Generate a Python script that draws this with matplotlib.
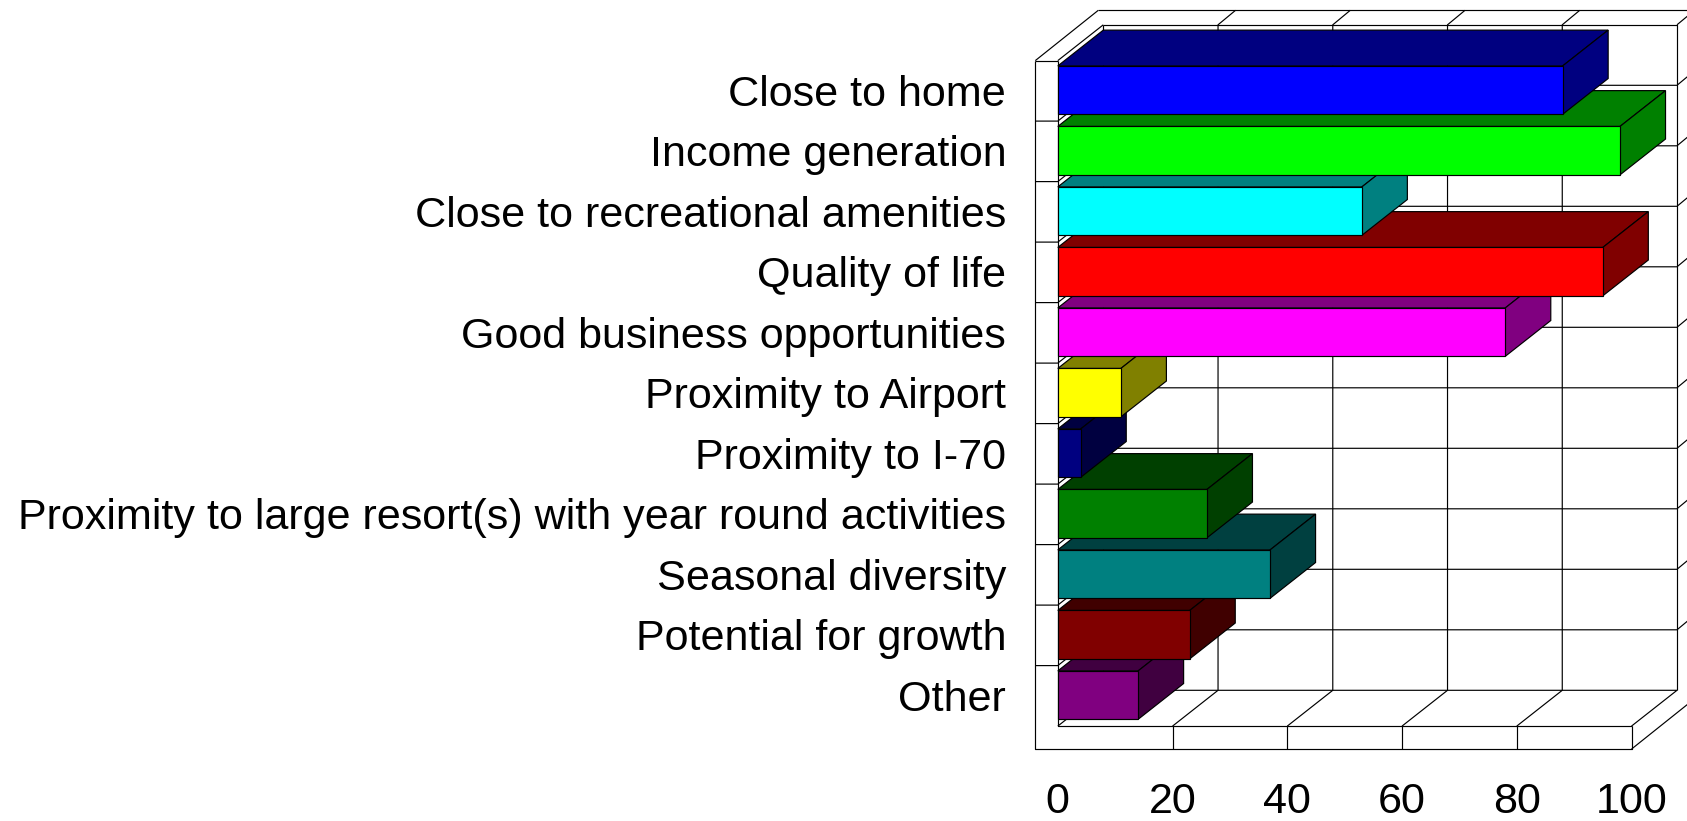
import matplotlib
matplotlib.use("Agg")
import matplotlib.pyplot as plt
from matplotlib.patches import Polygon

plt.rcParams['font.family'] = ['Liberation Sans', 'DejaVu Sans']

categories = ["Close to home", "Income generation", "Close to recreational amenities",
              "Quality of life", "Good business opportunities", "Proximity to Airport",
              "Proximity to I-70", "Proximity to large resort(s) with year round activities",
              "Seasonal diversity", "Potential for growth", "Other"]
values = [88, 98, 53, 95, 78, 11, 4, 26, 37, 23, 14]
front_colors = ["#0000FF", "#00FF00", "#00FFFF", "#FF0000", "#FF00FF", "#FFFF00",
                "#000080", "#008000", "#008080", "#800000", "#800080"]
depth_colors = ["#000080", "#008000", "#008080", "#800000", "#800080", "#808000",
                "#000040", "#004000", "#004040", "#400000", "#400040"]
x_ticks = [0, 20, 40, 60, 80, 100]

W, H = 1687, 821
fig = plt.figure(figsize=(W / 100, H / 100), dpi=100, facecolor="white")
L, R, T, B = 1057.8, 1631.5, 60.6, 726.1
ax = fig.add_axes([L / W, 1 - B / H, (R - L) / W, (B - T) / H])
n = len(categories)
ax.set_xlim(0, 100)
ax.set_ylim(n, 0)
sx = (R - L) / 100
sy = (B - T) / n

# projection offsets (data units)
DX, DY = 45.5 / sx, 35.8 / sy           # wall / bar depth
ODX, ODY = 63 / sx, 50.3 / sy           # outer slab depth
SLX, SLY = 22.5 / sx, 23 / sy           # slab thickness
lw = 0.85

def line(xs, ys, c="black", w=lw):
    ax.plot(xs, ys, color=c, lw=w, clip_on=False, solid_capstyle="butt", zorder=1)

# front slab outline
line([-SLX, -SLX, 100, 100], [0, n + SLY, n + SLY, n])
line([-SLX, 0], [0, 0])
line([0, 0, 100], [0, n, n])
line([-SLX, -SLX + ODX], [0, -ODY])
line([-SLX + ODX, 130], [-ODY, -ODY])
line([0, DX], [0, -DY])
line([DX, 100 + DX, 100 + DX], [-DY, -DY, n - DY])
line([DX, DX], [-DY, n - DY])
line([DX, 100 + DX, 100], [n - DY, n - DY, n])
line([0, DX], [n, n - DY])
line([100, 100 + ODX], [n + SLY, n + SLY - ODY])

# category separators on walls
for k in range(1, n):
    line([-SLX, 0, DX, 100 + DX, 100 + ODX], [k, k, k - DY, k - DY, k - ODY])
line([100 + DX, 100 + ODX], [-DY, -ODY])

# value gridlines on floor and back wall
for t in x_ticks[1:-1]:
    line([t, t], [n, n + SLY])
    line([t, t + DX, t + DX, t + ODX], [n, n - DY, -DY, -ODY])

# bars
for i, (v, fc, dc) in enumerate(zip(values, front_colors, depth_colors)):
    z = 10 + (n - i)
    top, bot = i + 0.5 - 0.4 - 0.012, i + 0.5 + 0.4 - 0.012
    for pts, col in (
        ([(0, top), (DX, top - DY), (v + DX, top - DY), (v, top)], dc),
        ([(v, top), (v + DX, top - DY), (v + DX, bot - DY), (v, bot)], dc),
        ([(0, top), (v, top), (v, bot), (0, bot)], fc),
    ):
        ax.add_patch(Polygon(pts, closed=True, facecolor=col, edgecolor="black",
                             lw=lw, clip_on=False, zorder=z, joinstyle="miter"))

for s in ax.spines.values():
    s.set_visible(False)
ax.patch.set_visible(False)
ax.set_xticks(x_ticks)
ax.set_xticklabels([str(t) for t in x_ticks])
ax.set_yticks([i + 0.5 - 0.012 for i in range(n)])
ax.set_yticklabels(categories)
ax.tick_params(axis="x", length=0, pad=40.5, labelsize=31.1)
ax.tick_params(axis="y", length=0, pad=37.2, labelsize=31.1)

fig.savefig("out.png", dpi=100, facecolor="white")
